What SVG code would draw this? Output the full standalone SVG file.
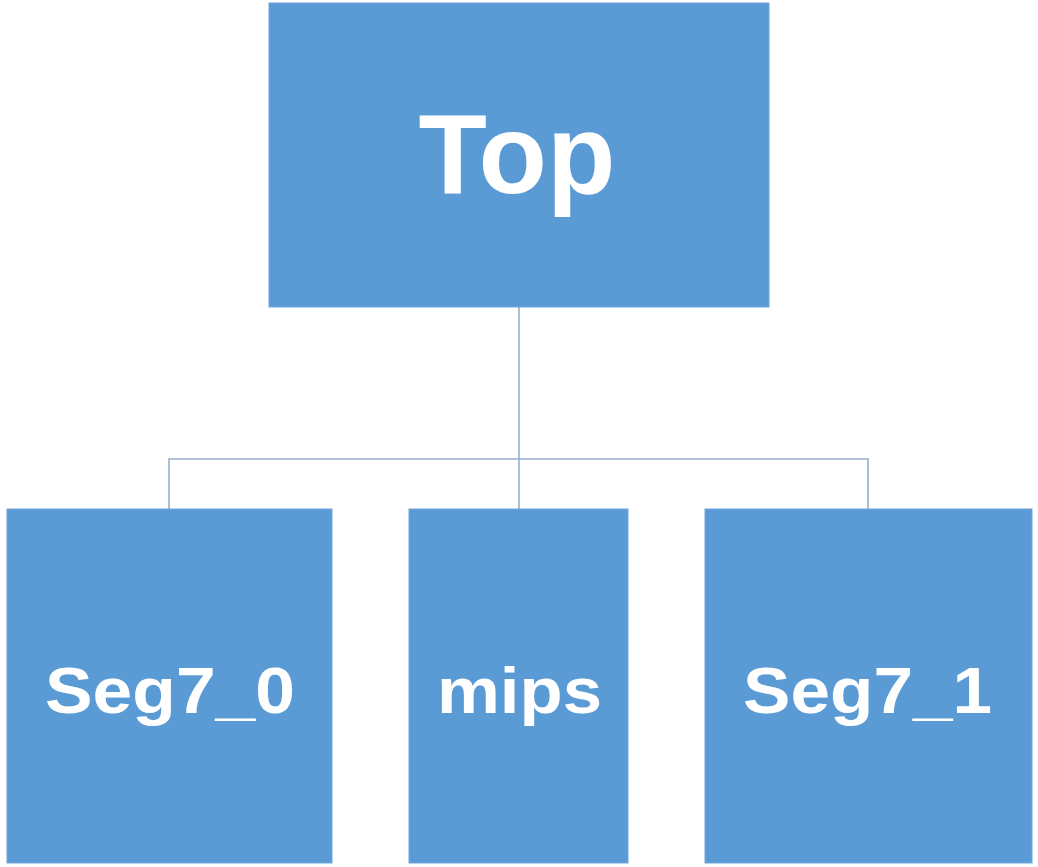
<svg xmlns="http://www.w3.org/2000/svg" width="1038" height="867" viewBox="0 0 1038 867">
<style>
.box{fill:#5B9BD5;stroke:#6FA6DA;stroke-width:1}
.lbl{font-family:"Liberation Sans",Arial,sans-serif;font-weight:bold;fill:#FFFFFF;text-anchor:middle}
.conn{fill:none;stroke:#98AECB;stroke-width:1.6}
</style>
<rect width="1038" height="867" fill="#FFFFFF"/>
<g id="connectors">
<path class="conn" d="M519,307 V509"/>
<path class="conn" d="M169,509 V459 H868 V509"/>
</g>
<g id="node-top">
<rect class="box" x="269" y="3" width="500" height="304"/>
<text class="lbl" x="517" y="193" font-size="113" textLength="197" lengthAdjust="spacingAndGlyphs">Top</text>
</g>
<g id="node-seg7_0">
<rect class="box" x="7" y="509" width="325" height="354"/>
<text class="lbl" x="170" y="713" font-size="64" textLength="250" lengthAdjust="spacingAndGlyphs">Seg7_0</text>
</g>
<g id="node-mips">
<rect class="box" x="409" y="509" width="219" height="354"/>
<text class="lbl" x="519.5" y="713" font-size="64" textLength="165" lengthAdjust="spacingAndGlyphs">mips</text>
</g>
<g id="node-seg7_1">
<rect class="box" x="705" y="509" width="327" height="354"/>
<text class="lbl" x="867.5" y="713" font-size="64" textLength="249" lengthAdjust="spacingAndGlyphs">Seg7_1</text>
</g>
</svg>
